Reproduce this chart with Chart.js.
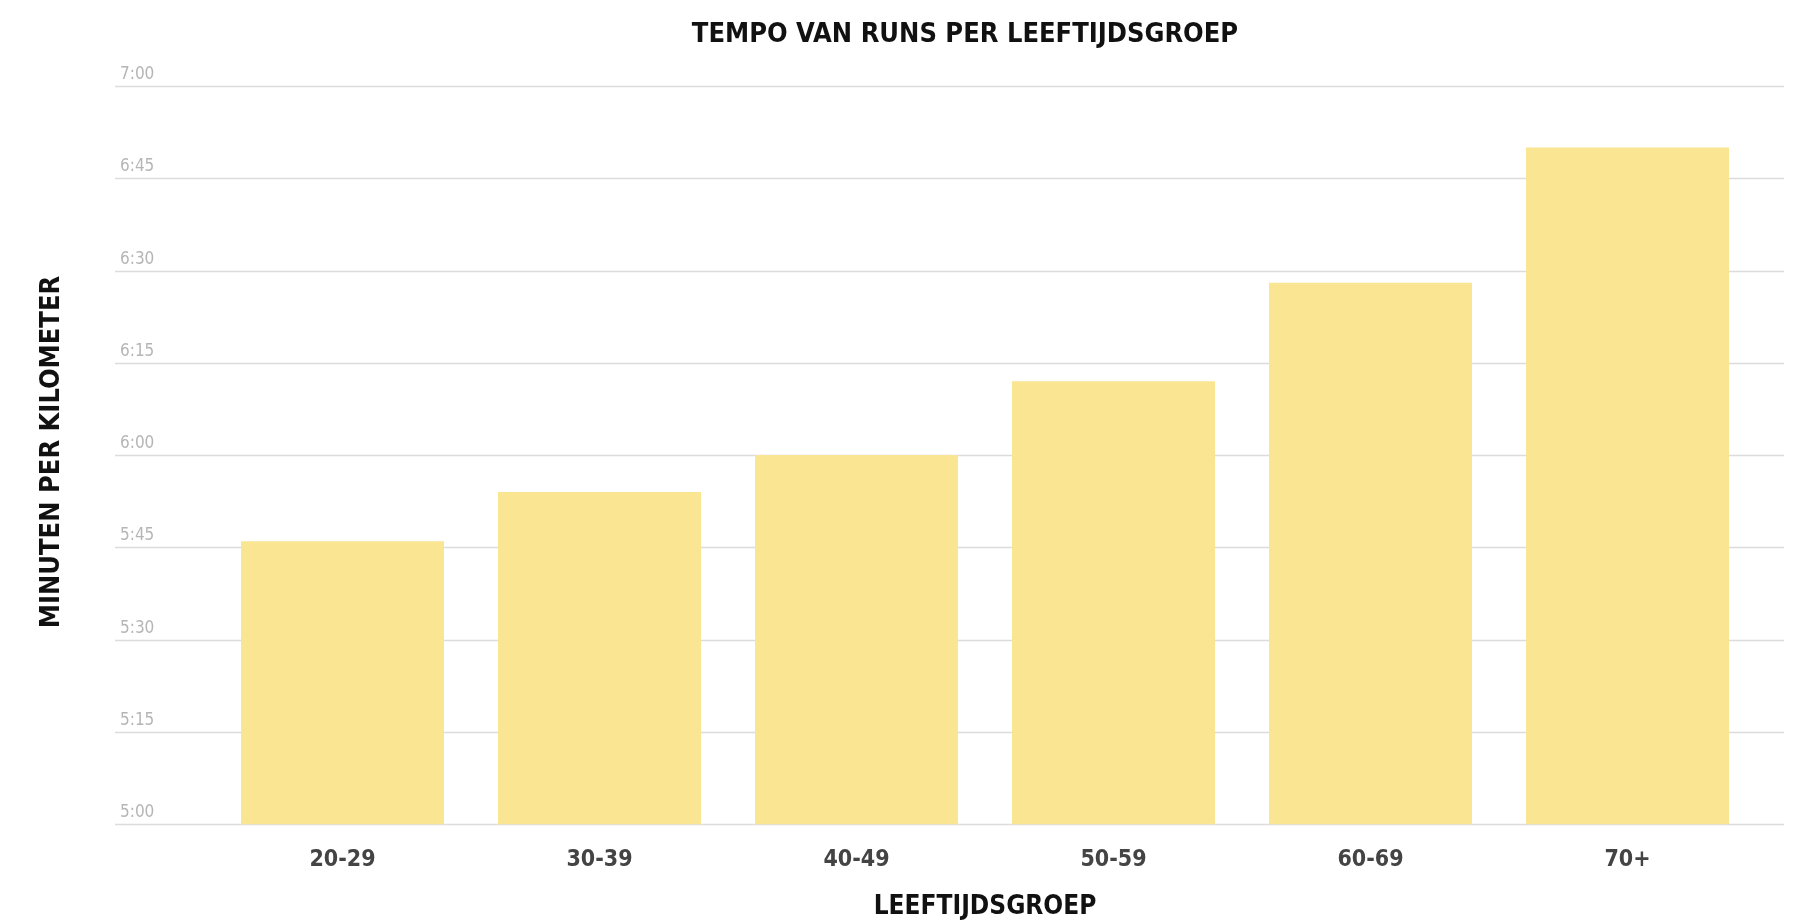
<!DOCTYPE html>
<html>
<head>
<meta charset="utf-8">
<script src="https://cdn.jsdelivr.net/npm/chart.js@4"></script>
<style>
  html, body { margin: 0; padding: 0; background: #fff; }
  #wrap { width: 1799px; height: 923px; }
</style>
</head>
<body>
<div id="wrap"><canvas id="c"></canvas></div>
<script>
  var FONT = '"Liberation Sans Narrow", "DejaVu Sans Condensed", sans-serif';

  // age groups and pace in seconds per km
  var categories = ['20-29', '30-39', '40-49', '50-59', '60-69', '70+'];
  var paceSeconds = [346, 354, 360, 372, 388, 410];
  var tickValues = [300, 315, 330, 345, 360, 375, 390, 405, 420];

  function fmt(s) {
    var m = Math.floor(s / 60), r = s % 60;
    return m + ':' + (r < 10 ? '0' : '') + r;
  }

  // gridlines across full width, tick labels above lines, title and y title
  var decor = {
    id: 'decor',
    beforeDatasetsDraw: function(chart) {
      var ctx = chart.ctx, y = chart.scales.y;
      ctx.save();
      tickValues.forEach(function(v) {
        var py = Math.round(y.getPixelForValue(v)) + 0.5;
        ctx.strokeStyle = '#dcdcdc';
        ctx.lineWidth = 1.5;
        ctx.beginPath();
        ctx.moveTo(115, py);
        ctx.lineTo(1784, py);
        ctx.stroke();
        ctx.fillStyle = '#b5b5b5';
        ctx.font = '17px ' + FONT;
        ctx.textAlign = 'left';
        ctx.textBaseline = 'bottom';
        ctx.fillText(fmt(v), 120, py - 3);
      });
      ctx.restore();
    },
    afterDraw: function(chart) {
      var ctx = chart.ctx;
      ctx.save();
      ctx.fillStyle = '#111';
      ctx.font = 'bold 27px ' + FONT;
      ctx.textAlign = 'center';
      ctx.textBaseline = 'middle';
      ctx.fillText('TEMPO VAN RUNS PER LEEFTIJDSGROEP', 965, 35);
      ctx.translate(52, 452);
      ctx.rotate(-Math.PI / 2);
      ctx.fillText('MINUTEN PER KILOMETER', 0, 0);
      ctx.restore();
    }
  };

  new Chart(document.getElementById('c').getContext('2d'), {
    type: 'bar',
    data: {
      labels: categories,
      datasets: [{
        data: paceSeconds,
        backgroundColor: '#f9e592',
        borderWidth: 0,
        barPercentage: 0.79,
        categoryPercentage: 1
      }]
    },
    options: {
      responsive: true,
      maintainAspectRatio: false,
      animation: false,
      layout: { padding: { left: 214, right: 43, top: 86, bottom: 0 } },
      plugins: { legend: { display: false }, tooltip: { enabled: false } },
      scales: {
        x: {
          grid: { display: false },
          border: { display: false },
          ticks: { color: '#444', font: { family: FONT, size: 23, weight: 'bold' }, padding: 14 },
          title: {
            display: true, text: 'LEEFTIJDSGROEP', color: '#111',
            font: { family: FONT, size: 26, weight: 'bold' }, padding: { top: 4, bottom: 0 }
          }
        },
        y: {
          min: 300, max: 420,
          display: false
        }
      }
    },
    plugins: [decor]
  });
</script>
</body>
</html>
